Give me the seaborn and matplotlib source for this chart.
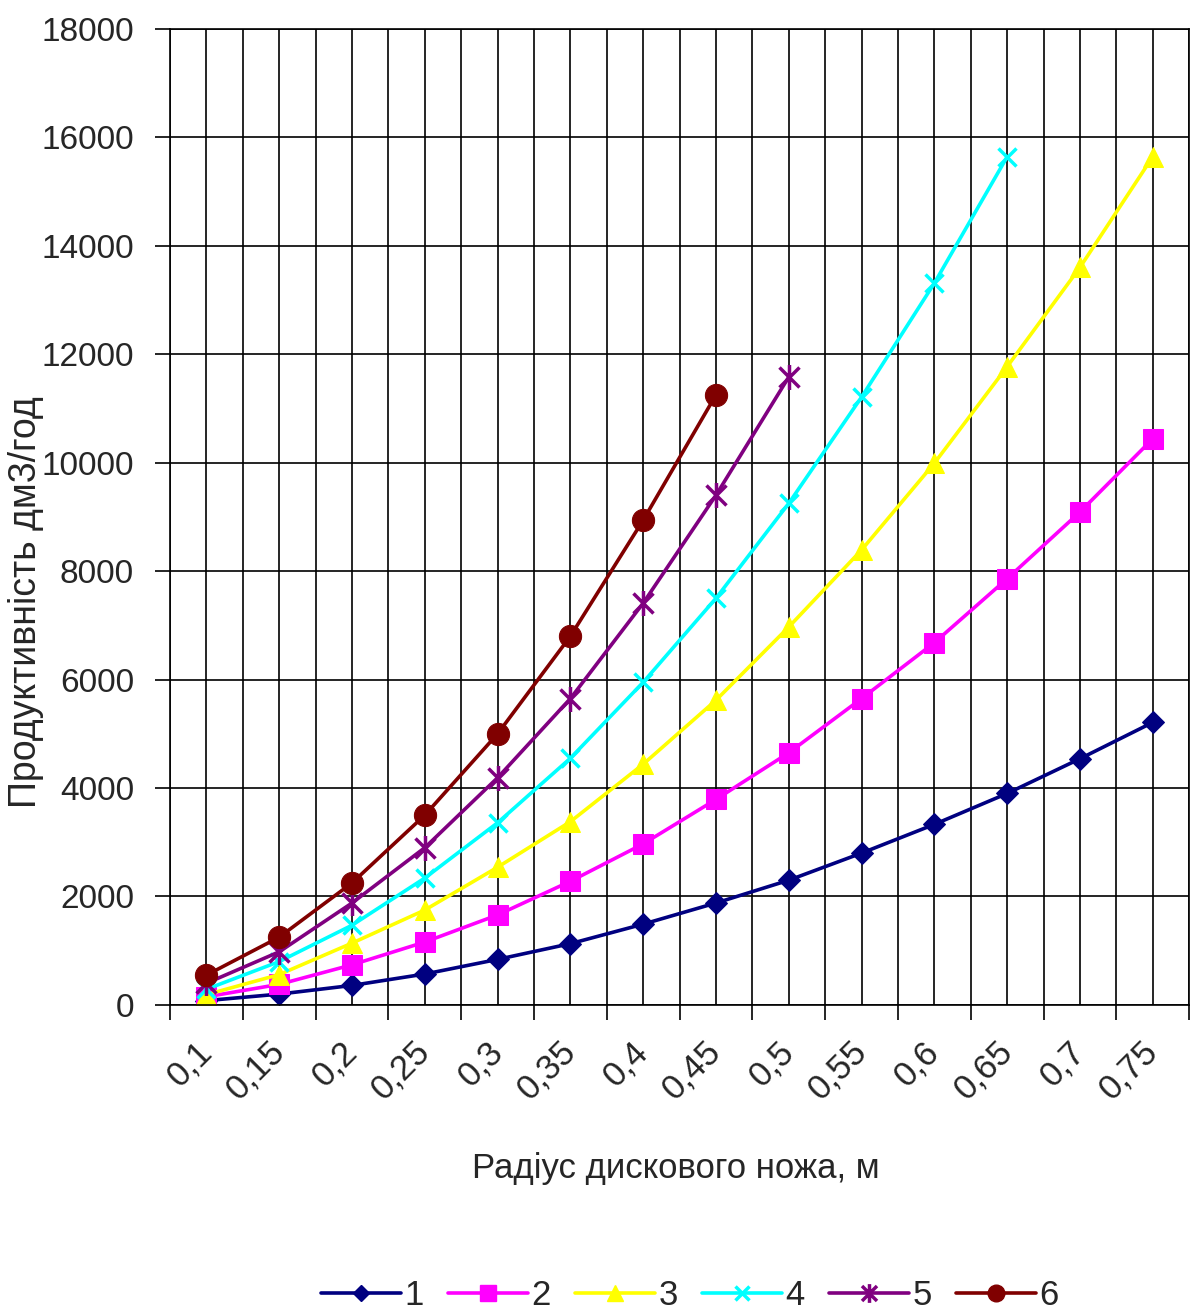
import numpy as np
import pandas as pd
import matplotlib
matplotlib.use("Agg")
import matplotlib.pyplot as plt
from matplotlib.path import Path
from matplotlib.lines import Line2D
import seaborn as sns

# Disc knife radius, m (category labels)
radius = ["0,1", "0,15", "0,2", "0,25", "0,3", "0,35", "0,4",
          "0,45", "0,5", "0,55", "0,6", "0,65", "0,7", "0,75"]

# Productivity, dm3/h, for each regime
s1 = [80, 200, 360, 570, 840, 1130, 1490, 1880, 2300, 2800, 3330, 3900, 4540, 5210]
s2 = [150, 380, 740, 1160, 1660, 2280, 2970, 3790, 4650, 5650, 6680, 7860, 9090, 10440]
s3 = [190, 560, 1140, 1750, 2540, 3380, 4440, 5620, 6970, 8390, 9990, 11770, 13600, 15640]
s4 = [290, 800, 1470, 2340, 3360, 4550, 5950, 7500, 9250, 11210, 13310, 15640]
s5 = [400, 980, 1880, 2900, 4190, 5650, 7410, 9400, 11580]
s6 = [550, 1250, 2250, 3500, 5000, 6800, 8940, 11250]

series = [s1, s2, s3, s4, s5, s6]
labels = ["1", "2", "3", "4", "5", "6"]
colors = ["#000080", "#FF00FF", "#FFFF00", "#00FFFF", "#800080", "#800000"]

# Excel-style asterisk: an X with a vertical stroke
asterisk = Path([(-1, -1), (1, 1), (-1, 1), (1, -1), (0, -1.25), (0, 1.25)],
                [Path.MOVETO, Path.LINETO] * 3)

styles = [
    dict(marker="D", markersize=11),
    dict(marker="s", markersize=15),
    dict(marker="^", markersize=15),
    dict(marker="x", markersize=13, markeredgewidth=2.5),
    dict(marker=asterisk, markersize=18, markeredgewidth=2.5),
    dict(marker="o", markersize=16),
]

sns.set_style("white")
plt.rcParams["font.family"] = ["Liberation Sans", "DejaVu Sans"]

fig = plt.figure(figsize=(12, 13.14), dpi=100)
ax = fig.add_axes([0.1417, 0.2352, 0.8492, 0.7428])
ax.set_axisbelow(True)

handles = []
for vals, lab, col, st in zip(series, labels, colors, styles):
    df = pd.DataFrame({"x": np.arange(len(vals)), "y": vals})
    sns.lineplot(data=df, x="x", y="y", ax=ax, color=col, linewidth=2.6,
                 markeredgecolor=col, markerfacecolor=col, legend=False, **st)
    handles.append(Line2D([0], [0], color=col, linewidth=2.6,
                          markeredgecolor=col, markerfacecolor=col, **st))

ax.set_xlim(-0.5, len(radius) - 0.5)
ax.set_ylim(0, 18000)
ax.set_yticks(np.arange(0, 18001, 2000))

ax.set_xticks(np.arange(len(radius)))
ax.set_xticklabels(radius, rotation=45, ha="right", va="center",
                   rotation_mode="anchor")
ax.set_xticks(np.arange(-0.5, len(radius), 1), minor=True)

ax.tick_params(axis="x", which="major", length=0, pad=30, labelsize=25)
ax.tick_params(axis="x", which="minor", length=11, width=1.2,
               direction="out", color="black", bottom=True)
ax.tick_params(axis="y", which="major", length=11, width=1.2,
               direction="out", color="black", pad=15, labelsize=24, left=True)

ax.grid(True, which="major", axis="both", color="black", linewidth=1.2)
ax.grid(True, which="minor", axis="x", color="black", linewidth=1.2)
for sp in ax.spines.values():
    sp.set_color("black")
    sp.set_linewidth(1.2)

ax.set_xlabel("Радіус дискового ножа, м", fontsize=25)
ax.xaxis.set_label_coords(0.496, -0.151)
ax.set_ylabel("Продуктивність дм3/год", fontsize=27)
ax.yaxis.set_label_coords(-0.1235, 0.413)

fig.legend(handles, labels, loc="center", bbox_to_anchor=(0.575, 0.014),
           ncol=6, frameon=False, fontsize=25, handlelength=2.3,
           handletextpad=0.1, columnspacing=0.7, markerscale=0.75)

fig.savefig("out.png", dpi=100)
